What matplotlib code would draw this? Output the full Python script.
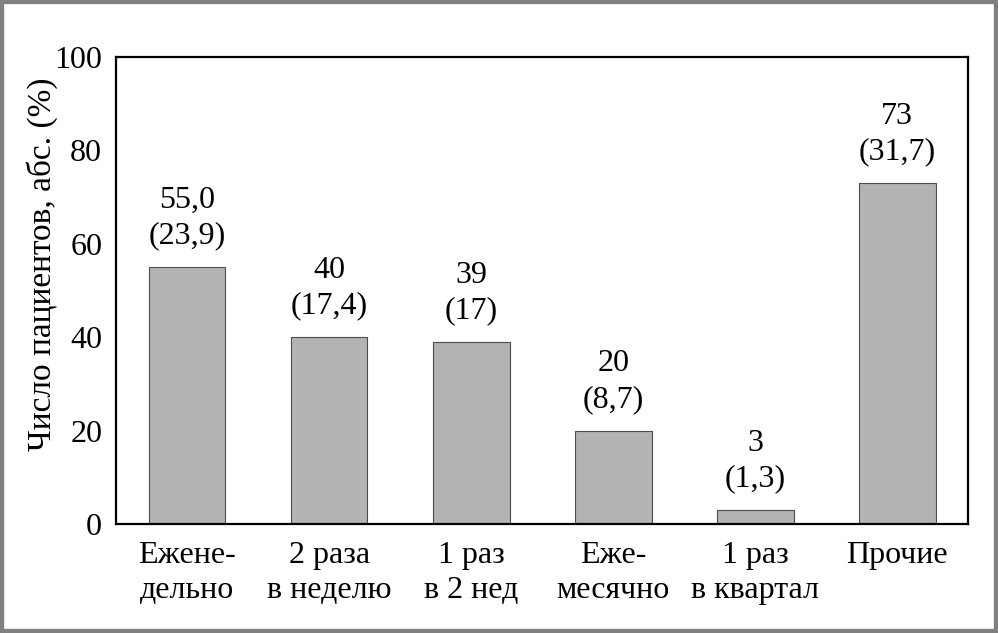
import numpy as np
import matplotlib.pyplot as plt
from matplotlib.patches import Rectangle

plt.rcParams['font.family'] = ['Liberation Serif', 'DejaVu Serif']

categories = ['Ежене-\nдельно', '2 раза\nв неделю', '1 раз\nв 2 нед', 'Еже-\nмесячно',
              '1 раз\nв квартал', 'Прочие']
counts = [55, 40, 39, 20, 3, 73]
count_labels = ['55,0', '40', '39', '20', '3', '73']
pct_labels = ['(23,9)', '(17,4)', '(17)', '(8,7)', '(1,3)', '(31,7)']

fig = plt.figure(figsize=(9.98, 6.33), dpi=100)
ax = fig.add_axes([0.1163, 0.172, 0.854, 0.738])

x = np.arange(len(categories))
ax.bar(x, counts, width=0.54, color='#b3b3b3', edgecolor='#4d4d4d', linewidth=0.8)

for xi, c, cl, pl in zip(x, counts, count_labels, pct_labels):
    ax.text(xi, c + 3.6, cl + '\n' + pl, ha='center', va='bottom',
            fontsize=23, linespacing=1.3)

ax.set_xlim(-0.5, 5.5)
ax.set_ylim(0, 100)
ax.set_yticks(range(0, 101, 20))
ax.set_xticks(x)
ax.set_xticklabels(categories, fontsize=23, linespacing=1.3)
ax.tick_params(axis='both', length=0, labelsize=23)
ax.tick_params(axis='y', pad=10)
ax.tick_params(axis='x', pad=12)
for s in ax.spines.values():
    s.set_linewidth(1.6)

ax.set_ylabel('Число пациентов, абс. (%)', fontsize=24)
ax.yaxis.label.set_va('center')
ax.yaxis.set_label_coords(-0.087, 0.556)

# gray frame round the picture
fig.patches.append(Rectangle((0, 0), 1, 1, transform=fig.transFigure, fill=False,
                             edgecolor='#808080', linewidth=6, zorder=10))

fig.savefig('out.png', dpi=100)
